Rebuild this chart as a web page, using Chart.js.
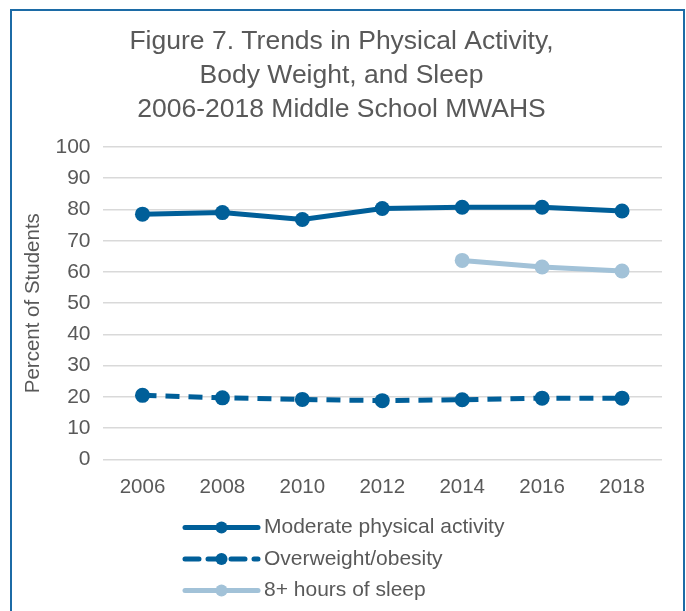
<!DOCTYPE html>
<html>
<head>
<meta charset="utf-8">
<script src="https://cdn.jsdelivr.net/npm/chart.js@4.4.1/dist/chart.umd.min.js"></script>
<style>
  html, body { margin: 0; padding: 0; background: #fff; }
  body { width: 686px; height: 611px; overflow: hidden; position: relative; }
  #frame {
    position: absolute; left: 10px; top: 9px;
    width: 671px; height: 620px;
    border: 2px solid #1C6BA6;
  }
  #wrap { position: absolute; left: 0; top: 0; width: 671px; height: 600px; }
</style>
</head>
<body>
<div id="frame"><div id="wrap"><canvas id="grafico"></canvas></div></div>
<script>
// Datos
const anios = ['2006', '2008', '2010', '2012', '2014', '2016', '2018'];
const actividadModerada = [78.5, 79.0, 76.8, 80.3, 80.7, 80.7, 79.5];
const sobrepeso = [20.5, 19.7, 19.2, 18.8, 19.1, 19.6, 19.6];
const horasSueno = [null, null, null, null, 63.7, 61.6, 60.3];
const etiquetasY = ['0', '10', '20', '30', '40', '50', '60', '70', '80', '90', '100'];

const azul = '#005F99';
const azulClaro = '#A2C2D8';
const gris = '#595959';
const fuente = "'Liberation Sans', Arial, sans-serif";

// Leyenda dibujada a mano (una entrada por fila)
const leyendaVertical = {
    id: 'leyendaVertical',
    afterDraw(chart) {
        const ctx = chart.ctx;
        const x0 = 173, x1 = 246, xt = 252;
        let y = chart.chartArea.bottom + 68;
        chart.data.datasets.forEach(ds => {
            ctx.save();
            ctx.strokeStyle = ds.borderColor;
            ctx.lineWidth = ds.borderWidth;
            ctx.setLineDash(ds.borderDash || []);
            ctx.lineCap = 'round';
            ctx.beginPath();
            ctx.moveTo(x0, y);
            ctx.lineTo(x1, y);
            ctx.stroke();
            ctx.setLineDash([]);
            ctx.fillStyle = ds.pointBackgroundColor;
            ctx.beginPath();
            ctx.arc((x0 + x1) / 2, y, 6, 0, Math.PI * 2);
            ctx.fill();
            ctx.fillStyle = gris;
            ctx.font = '21px ' + fuente;
            ctx.textAlign = 'left';
            ctx.textBaseline = 'middle';
            ctx.fillText(ds.label, xt, y);
            ctx.restore();
            y += 31.5;
        });
    }
};

const ctx = document.getElementById('grafico').getContext('2d');
new Chart(ctx, {
    type: 'line',
    data: {
        labels: anios,
        datasets: [{
            label: 'Moderate physical activity',
            data: actividadModerada,
            borderColor: azul,
            pointBackgroundColor: azul,
            pointBorderColor: azul,
            borderWidth: 5,
            pointRadius: 7.5,
            pointBorderWidth: 0,
            tension: 0
        }, {
            label: 'Overweight/obesity',
            data: sobrepeso,
            borderColor: azul,
            pointBackgroundColor: azul,
            pointBorderColor: azul,
            borderWidth: 5,
            borderDash: [14, 9],
            pointRadius: 7.5,
            pointBorderWidth: 0,
            tension: 0
        }, {
            label: '8+ hours of sleep',
            data: horasSueno,
            borderColor: azulClaro,
            pointBackgroundColor: azulClaro,
            pointBorderColor: azulClaro,
            borderWidth: 5,
            pointRadius: 7.5,
            pointBorderWidth: 0,
            tension: 0,
            spanGaps: false
        }]
    },
    options: {
        responsive: true,
        maintainAspectRatio: false,
        animation: false,
        layout: { padding: { left: 9, right: 21, top: 14, bottom: 103 } },
        plugins: {
            legend: { display: false },
            tooltip: { enabled: false },
            title: {
                display: true,
                text: ['Figure 7. Trends in Physical Activity,', 'Body Weight, and Sleep', '2006-2018 Middle School MWAHS'],
                color: gris,
                font: { family: fuente, size: 26.5, weight: 'normal', lineHeight: 1.283 },
                padding: { top: 0, bottom: 20 }
            }
        },
        scales: {
            x: {
                offset: true,
                grid: { display: false },
                border: { display: false },
                ticks: { color: gris, font: { family: fuente, size: 20.5 }, padding: 8 }
            },
            y: {
                min: 0,
                max: 100,
                border: { display: false },
                grid: { color: '#D9D9D9', lineWidth: 1.5, drawTicks: false },
                ticks: {
                    stepSize: 10,
                    color: gris,
                    padding: 12,
                    font: { family: fuente, size: 21 },
                    callback: (v, i) => etiquetasY[i]
                },
                title: {
                    display: true,
                    text: 'Percent of Students',
                    color: gris,
                    font: { family: fuente, size: 20.5, lineHeight: 1 },
                    padding: { top: 2, bottom: 0 }
                }
            }
        }
    },
    plugins: [leyendaVertical]
});
</script>
</body>
</html>
